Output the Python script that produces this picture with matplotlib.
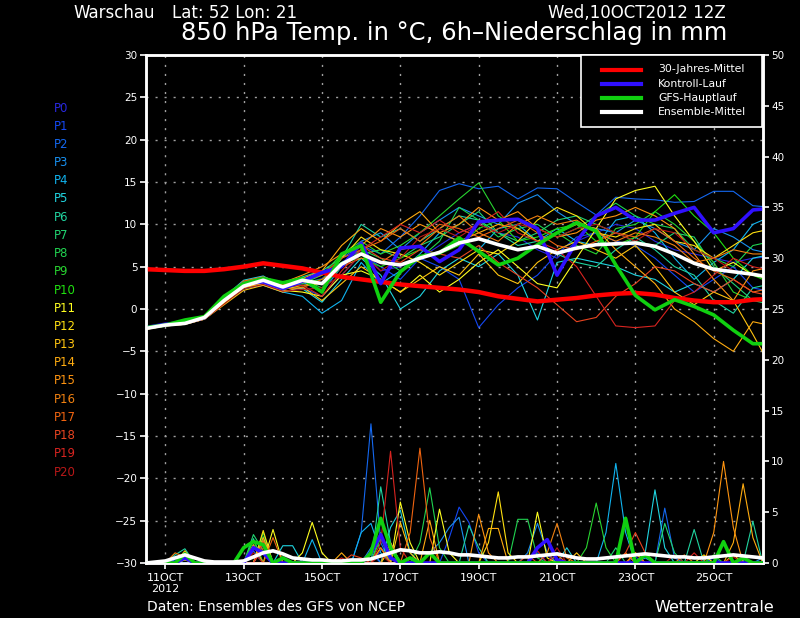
import numpy as np
import matplotlib
matplotlib.use("Agg")
import matplotlib.pyplot as plt
from matplotlib.lines import Line2D
from matplotlib.patches import Rectangle

# ---------------- data ----------------
# time in days since 10 Oct 2012 00Z
t12 = [0.5 + 0.5 * i for i in range(33)]          # 12-hourly steps
t6 = [0.5 + 0.25 * i for i in range(65)]          # 6-hourly steps (precip)

tick_days = [1, 3, 5, 7, 9, 11, 13, 15]
tick_labels = ["11OCT\n2012", "13OCT", "15OCT", "17OCT", "19OCT", "21OCT", "23OCT", "25OCT"]

member_names = ["P%d" % i for i in range(21)]
member_colors = ["#2828e0", "#1448f4", "#1468f0", "#1890f0", "#10b4f0", "#20d4e0",
                 "#20d4a0", "#20d470", "#20d450", "#28d430", "#20e010", "#ffff20",
                 "#ffe010", "#ffc410", "#ffac10", "#ff9410", "#f08010", "#f06410",
                 "#e84420", "#d82420", "#b81818"]

temp_members = [
    [-2.2,-1.8,-1.6,-1.0,1.2,2.9,3.3,2.4,3.0,3.6,5.5,7.0,4.5,5.0,6.0,7.5,9.0,10.0,9.0,8.5,7.0,6.0,8.0,9.0,10.0,9.5,8.0,7.0,6.5,6.0,5.5,6.0,6.2],
    [-2.3,-1.9,-1.7,-1.2,0.8,2.5,3.0,2.0,2.5,1.5,4.0,6.5,5.0,3.5,6.0,5.0,3.5,-2.2,0.5,2.5,4.0,6.5,8.5,9.0,8.0,7.5,6.0,4.0,2.0,3.5,5.0,2.5,2.0],
    [-2.3,-1.9,-1.7,-1.1,1.0,2.8,3.5,2.8,3.5,3.0,6.0,7.5,6.5,8.5,11.0,14.0,14.8,14.2,14.5,13.0,14.3,14.2,12.6,11.1,13.2,13.0,12.9,12.6,12.7,13.9,13.9,12.2,12.0],
    [-2.2,-1.8,-1.6,-1.0,1.3,3.2,3.8,3.0,3.2,2.0,5.0,8.0,9.0,7.0,9.0,10.5,12.0,11.0,10.0,12.5,13.5,11.5,10.0,9.5,9.0,10.5,9.5,8.0,7.0,9.5,8.5,7.0,6.5],
    [-2.4,-2.0,-1.8,-1.2,0.6,2.4,2.8,2.0,1.5,-0.5,1.0,5.5,3.0,4.5,6.5,9.0,8.0,7.0,9.5,10.0,8.0,9.5,8.0,7.5,10.5,11.0,9.0,6.0,3.5,5.5,7.0,10.0,11.0],
    [-2.2,-1.8,-1.6,-1.0,1.4,3.4,3.9,2.6,2.4,0.8,3.5,6.0,4.0,0.0,1.5,4.5,6.0,5.0,6.5,4.0,-1.3,5.5,6.0,5.5,5.0,4.0,3.5,2.0,3.0,2.0,3.5,6.0,6.5],
    [-2.3,-1.9,-1.7,-1.1,1.1,3.0,3.6,2.9,3.8,4.5,6.0,10.0,8.5,9.5,8.0,9.5,11.0,10.5,9.0,7.5,8.0,6.5,5.5,5.0,7.0,8.5,7.0,5.0,4.0,1.0,-0.5,2.5,3.0],
    [-2.3,-1.9,-1.6,-1.0,1.0,2.9,3.4,2.7,3.0,4.0,5.5,6.5,7.0,6.0,7.5,8.5,10.0,11.5,9.0,8.0,9.0,10.5,11.0,10.0,9.0,8.0,7.5,9.0,8.5,5.0,3.0,1.0,0.5],
    [-2.2,-1.8,-1.7,-1.1,1.1,3.0,3.3,2.5,3.5,2.5,5.0,7.0,6.0,4.5,6.0,8.0,12.0,10.5,8.5,9.5,10.0,8.5,9.5,11.0,12.5,11.0,10.0,9.5,7.0,6.0,5.0,7.5,8.0],
    [-2.3,-1.8,-1.6,-1.0,1.2,3.1,3.5,3.0,3.3,4.0,6.5,8.0,6.5,7.5,9.0,11.0,13.0,14.9,11.0,9.5,8.0,9.0,7.5,6.5,9.5,10.0,11.5,10.0,8.0,5.5,2.0,1.0,1.5],
    [-2.3,-1.9,-1.7,-1.1,0.9,2.7,3.2,2.6,3.1,3.5,5.5,6.0,5.0,6.0,7.0,6.5,7.5,9.5,10.5,8.0,8.5,9.5,10.0,8.0,7.5,8.5,11.5,13.5,11.0,9.0,6.0,4.0,3.0],
    [-2.4,-2.0,-1.8,-1.2,0.7,2.6,3.0,2.2,2.0,1.5,4.0,4.5,3.5,2.0,4.0,2.0,3.5,5.5,7.0,5.0,3.0,2.5,6.0,9.5,13.0,14.0,14.5,11.0,8.0,4.5,5.5,4.0,3.5],
    [-2.3,-1.9,-1.7,-1.1,0.8,2.5,3.0,2.3,2.8,3.0,6.0,8.5,7.0,6.5,5.5,4.0,5.5,7.0,6.5,8.0,10.5,12.0,11.0,9.0,8.5,9.5,10.0,8.0,7.5,6.0,7.5,9.0,9.5],
    [-2.4,-2.0,-1.8,-1.2,0.5,2.2,2.8,2.0,2.6,1.0,3.0,5.0,3.5,2.0,3.5,5.0,4.0,6.5,4.0,3.0,5.5,7.0,8.0,7.0,6.0,7.5,5.0,2.0,0.5,2.0,1.0,-3.0,-7.2],
    [-2.3,-1.9,-1.6,-1.0,1.0,2.8,3.4,2.8,3.6,4.5,7.5,9.5,8.0,10.0,11.5,9.0,8.0,9.0,10.0,9.5,8.0,9.0,10.0,9.5,7.0,5.0,3.0,0.0,-1.5,-3.5,-5.0,-1.5,-2.0],
    [-2.3,-1.8,-1.6,-1.1,1.2,3.2,3.7,3.1,4.0,5.0,6.5,7.5,9.5,8.5,10.0,9.0,10.0,12.0,10.5,11.5,9.5,8.5,9.0,10.5,11.0,12.0,11.0,9.5,6.5,3.5,1.0,4.5,5.0],
    [-2.3,-1.9,-1.7,-1.1,0.9,2.6,3.1,2.4,2.5,3.5,5.0,6.0,5.5,7.0,7.5,9.5,11.0,9.0,8.0,10.0,11.0,10.0,10.5,9.0,8.0,9.0,8.5,7.5,5.5,6.0,7.0,6.5,6.5],
    [-2.2,-1.8,-1.6,-1.0,1.3,3.3,3.8,2.9,3.4,4.0,6.0,7.0,8.0,9.5,8.0,10.0,9.5,8.5,9.5,10.5,9.0,7.5,7.0,8.0,9.0,8.5,9.5,8.0,6.0,4.5,3.5,2.0,2.5],
    [-2.3,-1.9,-1.7,-1.1,1.0,2.9,3.5,2.7,3.2,3.0,5.0,7.5,6.0,5.5,7.0,6.5,6.0,7.5,5.5,4.0,2.5,0.5,-1.5,-1.0,1.5,3.0,5.0,4.5,3.0,2.0,3.5,2.0,1.5],
    [-2.3,-1.9,-1.6,-1.0,1.1,3.0,3.4,2.6,2.8,1.5,4.5,7.0,8.5,10.0,9.0,10.5,9.0,10.0,11.5,9.0,8.0,7.0,5.0,1.5,-2.0,-2.2,-2.0,1.0,2.0,4.0,6.0,5.0,4.5],
    [-2.4,-2.0,-1.8,-1.2,0.6,2.4,2.9,2.1,2.3,2.5,4.0,6.5,4.5,6.0,8.5,9.5,8.5,10.0,9.0,10.0,9.5,8.5,9.5,10.0,9.0,8.0,9.5,9.0,7.0,6.0,4.5,4.0,4.0],
]

temp_clim = [4.7,4.6,4.5,4.5,4.7,5.0,5.4,5.1,4.8,4.3,3.8,3.5,3.2,2.9,2.7,2.5,2.3,2.0,1.5,1.2,0.9,1.1,1.3,1.6,1.8,1.9,1.7,1.3,1.0,0.8,0.8,1.1,1.2]
temp_control = [-2.2,-1.8,-1.6,-1.0,1.2,3.0,3.2,2.4,3.3,4.3,5.0,7.8,3.0,7.2,7.4,5.6,7.0,10.3,10.5,10.6,9.5,4.0,8.0,11.0,12.0,10.5,10.5,11.3,12.0,9.0,9.5,11.7,11.9]
temp_gfs = [-2.2,-1.9,-1.3,-0.9,1.5,3.0,3.6,3.1,3.6,2.0,6.5,7.5,0.8,4.4,6.2,6.6,8.4,6.8,5.2,6.0,7.6,9.0,10.2,9.2,5.2,1.6,-0.1,1.1,0.3,-0.7,-2.5,-4.1,-4.1]
temp_mean = [-2.3,-1.9,-1.7,-1.0,1.0,2.7,3.4,2.6,3.4,3.0,5.3,6.5,5.5,5.2,6.0,6.7,7.8,8.3,7.6,7.0,7.4,6.6,7.2,7.6,7.7,7.8,7.4,6.5,5.4,4.7,4.4,4.1,3.7]

# 6h precipitation events (day, mm) per member; all other steps are 0
precip_members = [
    [(1.5,0.4),(3.25,1.5),(3.5,1.0),(6.5,1.2),(6.75,2.0),(10.75,0.8),(13.0,0.6)],
    [(1.5,0.5),(3.5,1.8),(6.25,1.0),(8.25,2.5),(8.5,5.5),(8.75,4.0),(9.0,1.0),(15.0,0.5)],
    [(1.25,0.3),(3.25,1.2),(6.0,3.0),(6.25,13.7),(6.5,2.0),(10.5,1.0),(13.75,5.4),(14.0,0.5)],
    [(1.5,0.6),(3.5,2.0),(6.25,1.5),(7.75,1.0),(8.0,2.0),(8.25,3.5),(8.5,4.5),(10.25,1.0),(10.5,3.9),(10.75,1.0),(16.25,0.5)],
    [(1.5,0.6),(3.25,1.8),(4.75,2.3),(6.0,3.0),(6.25,3.9),(6.5,1.0),(12.25,3.0),(12.5,9.8),(12.75,3.0),(13.25,0.5)],
    [(1.5,0.7),(3.5,2.2),(4.0,1.7),(4.25,1.7),(6.75,3.5),(7.0,5.2),(7.25,1.0),(11.25,1.5),(13.25,1.0),(13.5,7.2),(13.75,1.5)],
    [(1.25,0.8),(1.5,1.4),(3.25,2.4),(6.5,7.5),(6.75,2.0),(8.75,3.7),(9.0,1.5),(14.5,3.3),(16.0,4.1)],
    [(1.5,0.8),(3.25,2.8),(3.5,1.2),(6.5,3.0),(12.5,1.5),(13.75,3.9),(14.0,1.0)],
    [(1.5,0.6),(3.5,2.6),(7.5,2.0),(7.75,7.4),(8.0,1.5),(10.0,4.3),(10.25,4.3),(10.5,0.5)],
    [(1.5,0.7),(3.5,3.0),(6.5,2.5),(11.75,1.5),(12.0,5.9),(12.25,1.5)],
    [(1.5,0.9),(3.25,2.2),(6.75,1.5),(15.0,0.8)],
    [(1.5,0.3),(3.75,3.3),(4.5,1.0),(4.75,4.0),(5.0,1.0),(7.0,6.0),(7.25,2.0),(8.0,5.3),(8.25,1.0),(10.5,5.0),(10.75,0.5),(13.0,1.0)],
    [(1.5,0.5),(3.5,3.2),(6.75,1.5),(9.25,2.0),(9.5,7.0),(9.75,1.0),(14.75,0.8)],
    [(1.5,1.2),(3.5,2.0),(7.0,4.0),(7.25,1.0),(11.5,1.0),(15.5,0.8)],
    [(1.5,0.8),(3.5,2.5),(5.5,1.0),(6.5,1.5),(7.75,4.2),(9.25,3.4),(9.5,3.4),(13.0,1.0),(15.5,2.0),(15.75,7.8),(16.0,2.5)],
    [(1.5,1.0),(3.25,1.8),(6.75,2.0),(9.0,4.8),(9.25,1.0),(12.75,1.0),(15.0,3.0),(15.25,10.0),(15.5,3.5)],
    [(1.25,1.0),(1.5,0.6),(3.5,2.2),(6.5,1.5),(10.75,1.0),(11.0,3.9),(11.25,0.5),(14.25,0.8)],
    [(1.5,0.7),(3.75,2.5),(7.25,3.0),(7.5,11.3),(7.75,2.5),(11.0,0.8),(13.0,1.0)],
    [(1.5,0.6),(3.5,1.5),(5.75,0.8),(6.0,0.5),(10.25,0.8),(12.75,1.0),(13.0,3.0),(13.25,1.0)],
    [(1.5,0.5),(3.5,2.0),(5.5,0.5),(6.5,2.0),(6.75,11.0),(7.0,1.5),(10.5,1.2),(14.5,1.0)],
    [(1.5,0.4),(3.25,1.0),(6.5,0.8),(11.0,1.5),(14.0,0.8),(15.5,0.6)],
]
precip_control = [(1.5,0.5),(3.25,1.5),(3.5,1.0),(6.25,1.0),(6.5,2.8),(6.75,0.5),(10.5,1.5),(10.75,2.3),(11.0,0.3)]
precip_gfs = [(1.5,0.9),(3.0,1.5),(3.25,2.1),(3.5,1.8),(4.0,0.5),(6.25,1.0),(6.5,4.4),(6.75,1.5),(7.25,0.5),
              (7.75,1.0),(12.75,4.4),(13.25,0.8),(15.25,2.1),(15.75,0.5)]
# ensemble-mean 6h precipitation, every step
precip_mean_vals = [0.0,0.1,0.2,0.5,0.8,0.5,0.2,0.1,0.1,0.1,0.2,0.6,1.0,1.2,0.9,0.5,
                    0.4,0.3,0.3,0.2,0.2,0.3,0.3,0.4,0.7,1.0,1.3,1.2,1.0,1.0,1.1,1.0,
                    0.8,0.8,0.7,0.6,0.5,0.5,0.6,0.6,0.7,0.8,0.9,0.7,0.5,0.4,0.4,0.5,
                    0.6,0.7,0.8,0.9,0.8,0.7,0.6,0.6,0.5,0.5,0.6,0.7,0.8,0.7,0.6,0.5,0.5]

legend_labels = ["30-Jahres-Mittel", "Kontroll-Lauf", "GFS-Hauptlauf", "Ensemble-Mittel"]
legend_colors = ["#ff0000", "#3010ff", "#10d010", "#ffffff"]


def precip_series(events):
    arr = np.zeros(len(t6))
    for d, v in events:
        arr[int(round((d - 0.5) / 0.25))] = v
    return arr


# ---------------- figure ----------------
W, H = 800, 618
fig = plt.figure(figsize=(8, 6.18), dpi=100, facecolor="black")
L, R, T, B = 145.7, 762.7, 55, 563
ax = fig.add_axes([L / W, 1 - B / H, (R - L) / W, (B - T) / H])
ax.set_facecolor("black")
ax2 = ax.twinx()

fx = lambda px: px / W
fy = lambda py: 1 - py / H

# grid
for d in tick_days:
    ax.axvline(d, color="#a0a0a0", lw=1.0, ls=(0, (1.5, 5)), zorder=0)
for v in range(-25, 30, 5):
    ax.axhline(v, color="#a0a0a0", lw=1.0, ls=(0, (1.5, 5)), zorder=0)

thin = 0.8
thick = 2.6
for vals, c in zip(temp_members, member_colors):
    ax.plot(t12, vals, color=c, lw=thin, zorder=2)
ax.plot(t12, temp_clim, color=legend_colors[0], lw=thick + 0.6, zorder=3)
ax.plot(t12, temp_control, color=legend_colors[1], lw=thick, zorder=4)
ax.plot(t12, temp_gfs, color=legend_colors[2], lw=thick, zorder=5)
ax.plot(t12, temp_mean, color=legend_colors[3], lw=thick, zorder=6)

for ev, c in zip(precip_members, member_colors):
    ax2.plot(t6, precip_series(ev), color=c, lw=thin, zorder=2)
ax2.plot(t6, precip_series(precip_control), color=legend_colors[1], lw=thick, zorder=4)
ax2.plot(t6, precip_series(precip_gfs), color=legend_colors[2], lw=thick, zorder=5)
ax2.plot(t6, precip_mean_vals, color=legend_colors[3], lw=thick, zorder=6)

ax.set_xlim(0.5, 16.25)
ax.set_ylim(-30, 30)
ax2.set_ylim(0, 50)
ax.set_yticks(range(-30, 31, 5))
ax2.set_yticks(range(0, 51, 5))
ax.set_xticks(tick_days)
ax.set_xticklabels(tick_labels, linespacing=1.1)

for a in (ax, ax2):
    for s in a.spines.values():
        s.set_color("white")
        s.set_linewidth(1.8)
ax.tick_params(axis="both", colors="white", labelcolor="white", labelsize=7.5, length=4, width=1.2, pad=2)
ax.tick_params(axis="x", labelsize=8, pad=3)
ax2.tick_params(axis="y", colors="white", labelcolor="white", labelsize=7.5, length=4, width=1.2, pad=2)

# member labels
for i, (n, c) in enumerate(zip(member_names, member_colors)):
    fig.text(fx(54), fy(108 + i * 18.2), n, color=c, fontsize=8.5, va="center", ha="left")

# legend (drawn manually)
fig.add_artist(Rectangle((fx(581), fy(127)), fx(762) - fx(581), fy(55) - fy(127),
                         transform=fig.transFigure, facecolor="black", edgecolor="white", lw=1.2, zorder=10))
for i, (lab, c) in enumerate(zip(legend_labels, legend_colors)):
    yy = fy(69.5 + i * 14.2)
    fig.add_artist(Line2D([fx(602), fx(641)], [yy, yy], transform=fig.transFigure, color=c, lw=3, zorder=11))
    fig.text(fx(658), yy, lab, color="white", fontsize=7.8, va="center", ha="left", zorder=12)

# titles
fig.text(fx(73), fy(13), "Warschau", color="white", fontsize=12, va="center", ha="left")
fig.text(fx(172), fy(13), "Lat: 52 Lon: 21", color="white", fontsize=12, va="center", ha="left")
fig.text(fx(726), fy(13), "Wed,10OCT2012 12Z", color="white", fontsize=12, va="center", ha="right")
fig.text(fx(454), fy(33), "850 hPa Temp. in °C, 6h\u2013Niederschlag in mm", color="white", fontsize=17.5,
         va="center", ha="center")
fig.text(fx(147), fy(607), "Daten: Ensembles des GFS von NCEP", color="white", fontsize=10, va="center", ha="left")
fig.text(fx(774), fy(607), "Wetterzentrale", color="white", fontsize=11.5, va="center", ha="right")

fig.savefig("out.png", dpi=100, facecolor="black")
